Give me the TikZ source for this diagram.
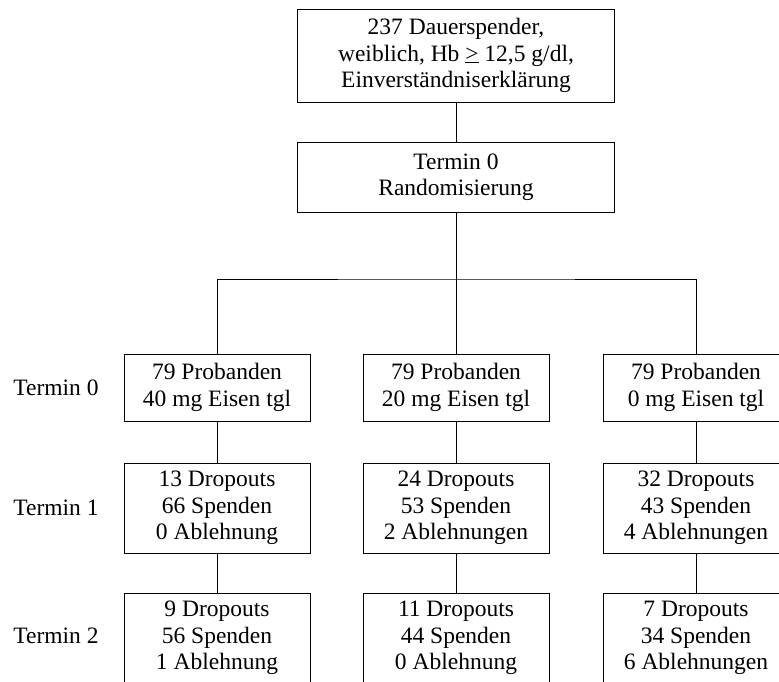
\documentclass[tikz,border=0pt]{standalone}
\usepackage{fontspec}
\setmainfont{Liberation Serif}
\usepackage{tikz}
\usetikzlibrary{positioning}

\begin{document}
\begin{tikzpicture}[x=1pt, y=-1pt, line width=0.9pt,
    font=\fontsize{23.5}{26.5}\selectfont,
    kasten/.style={draw, align=center, inner sep=0pt, minimum width=186pt},
    zeile/.style={align=center, inner sep=0pt}]
        \useasboundingbox (0,0) rectangle (779,682);
        \clip (0,0) rectangle (779,682);

        % Kopf
        \node[kasten, minimum width=317pt, minimum height=93pt] (spender) at (456,55.5)
            {237 Dauerspender,\\ weiblich, Hb \underline{>} 12,5 g/dl,\\ Einverständniserklärung};
        \node[kasten, minimum width=317pt, minimum height=70pt] (rand) at (456,177)
            {Termin 0\\ Randomisierung};
        \coordinate (bus) at (456,279);

        % Termin 0
        \node[kasten, minimum height=67pt] (p40) at (217,387.5) {79 Probanden\\ 40 mg Eisen tgl};
        \node[kasten, minimum height=67pt] (p20) at (456,387.5) {79 Probanden\\ 20 mg Eisen tgl};
        \node[kasten, minimum height=67pt] (p0) at (696,387.5) {79 Probanden\\ 0 mg Eisen tgl};

        % Termin 1
        \node[kasten, minimum height=90pt] (a40) at (217,508) {13 Dropouts\\ 66 Spenden\\ 0 Ablehnung};
        \node[kasten, minimum height=90pt] (a20) at (456,508) {24 Dropouts\\ 53 Spenden\\ 2 Ablehnungen};
        \node[kasten, minimum height=90pt] (a0) at (696,508) {32 Dropouts\\ 43 Spenden\\ 4 Ablehnungen};

        % Termin 2
        \node[kasten, minimum height=90pt] (b40) at (217,638) {9 Dropouts\\ 56 Spenden\\ 1 Ablehnung};
        \node[kasten, minimum height=90pt] (b20) at (456,638) {11 Dropouts\\ 44 Spenden\\ 0 Ablehnung};
        \node[kasten, minimum height=90pt] (b0) at (696,638) {7 Dropouts\\ 34 Spenden\\ 6 Ablehnungen};

        \node[zeile] (t0) at (56,387.5) {Termin 0};
        \node[zeile] (t1) at (56,508) {Termin 1};
        \node[zeile] (t2) at (56,636) {Termin 2};

        \draw (spender) -- (rand);
        \draw (rand) -- (p20);
        \draw (p40.north) |- (bus) -| (p0.north);
        \foreach \g in {40,20,0} {
            \draw (p\g) -- (a\g);
            \draw (a\g) -- (b\g);
        }
    \end{tikzpicture}
\end{document}
